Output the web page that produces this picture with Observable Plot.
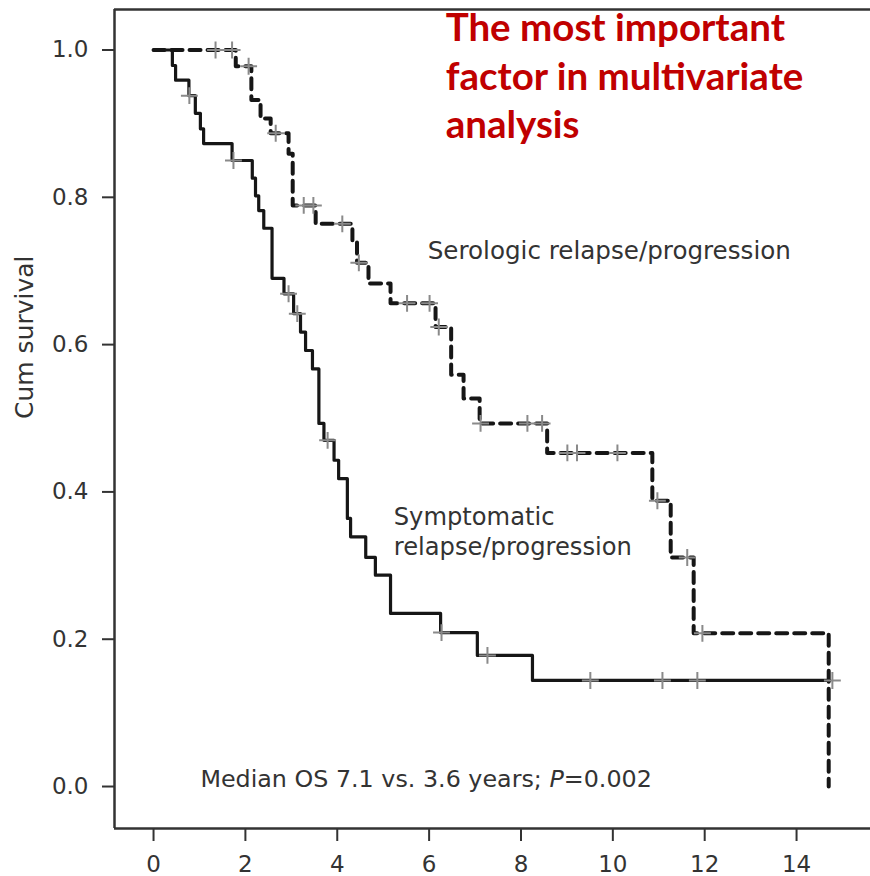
<!DOCTYPE html>
<html>
<head>
<meta charset="utf-8">
<script src="https://cdn.jsdelivr.net/npm/d3@7"></script>
<script src="https://cdn.jsdelivr.net/npm/@observablehq/plot@0.6"></script>
<style>
  html, body { margin: 0; padding: 0; background: #fff; overflow: hidden; }
</style>
</head>
<body>
<div id="chart"></div>
<script>
// Kaplan–Meier overall survival (years) by type of relapse/progression.

// Symptomatic relapse/progression: event times and survival after each event
const symptomaticTimes = [0, 0.41, 0.48, 0.77, 0.91, 1.02, 1.09, 1.71, 2.15, 2.22, 2.29, 2.40, 2.58, 2.84,
  3.05, 3.20, 3.31, 3.46, 3.60, 3.71, 3.93, 4.03, 4.22, 4.29, 4.62, 4.83, 5.16, 6.25, 7.05, 8.25];
const symptomaticSurvival = [1.0, 0.979, 0.959, 0.938, 0.914, 0.893, 0.873, 0.850, 0.826, 0.802, 0.782, 0.758, 0.690, 0.669,
  0.642, 0.617, 0.592, 0.567, 0.493, 0.470, 0.443, 0.418, 0.364, 0.339, 0.311, 0.287, 0.235, 0.209, 0.178, 0.144];
const symptomaticLastFollowUp = 14.72;
const symptomaticCensored = [0.78, 1.74, 2.94, 3.13, 3.79, 6.27, 7.27, 9.51, 11.08, 11.84, 14.78];

// Serologic relapse/progression
const serologicTimes = [0, 1.79, 2.13, 2.33, 2.55, 2.94, 3.03, 3.53, 4.33, 4.43, 4.68, 5.16, 6.14, 6.48,
  6.75, 7.10, 8.57, 10.86, 11.26, 11.76, 14.70];
const serologicSurvival = [1.0, 0.978, 0.932, 0.907, 0.887, 0.859, 0.789, 0.764, 0.739, 0.711, 0.683, 0.656, 0.624, 0.559,
  0.527, 0.493, 0.453, 0.388, 0.311, 0.208, 0.0];
const serologicCensored = [1.35, 1.71, 2.07, 2.66, 3.27, 3.48, 4.11, 4.47, 5.52, 6.01, 6.21, 7.12, 8.14, 8.46,
  9.01, 9.22, 10.10, 10.97, 11.62, 11.95];

const xTicks = [0, 2, 4, 6, 8, 10, 12, 14];
const yTicks = [0, 0.2, 0.4, 0.6, 0.8, 1.0];

const yLabel = "Cum survival";
const serologicLabel = "Serologic relapse/progression";
const symptomaticLabel = "Symptomatic\nrelapse/progression";
const medianNote = "Median OS 7.1 vs. 3.6 years; P=0.002";
const headline = "The most important\nfactor in multivariate\nanalysis";

// survival value of a step function at time t
function survivalAt(times, surv, t) {
  let s = surv[0];
  for (let i = 0; i < times.length; i++) if (times[i] <= t) s = surv[i];
  return s;
}

const symptomaticLine = symptomaticTimes.map((t, i) => ({t, s: symptomaticSurvival[i]}));
symptomaticLine.push({t: symptomaticLastFollowUp, s: symptomaticSurvival[symptomaticSurvival.length - 1]});
const serologicLine = serologicTimes.map((t, i) => ({t, s: serologicSurvival[i]}));

const censorMarks = [
  ...symptomaticCensored.map(t => ({t, s: survivalAt(symptomaticTimes, symptomaticSurvival, t)})),
  ...serologicCensored.map(t => ({t, s: survivalAt(serologicTimes, serologicSurvival, t)}))
];

const xDomain = [-0.85, 15.61];
const yDomain = [-0.057, 1.055];
const ink = "#333";

const chart = Plot.plot({
  width: 870,
  height: 876,
  marginLeft: 114,
  marginRight: 0,
  marginTop: 9,
  marginBottom: 48,
  x: {domain: xDomain},
  y: {domain: yDomain},
  style: {fontFamily: "'DejaVu Sans', sans-serif", fontSize: "23px", color: ink, background: "#fff"},
  marks: [
    Plot.ruleX([xDomain[0]], {stroke: ink, strokeWidth: 2.5}),
    Plot.ruleY(yDomain, {stroke: ink, strokeWidth: 2.5}),
    Plot.axisX({ticks: xTicks, tickSize: 13, tickPadding: 14, label: null, stroke: ink, fill: ink, strokeWidth: 2}),
    Plot.axisY({ticks: yTicks, tickFormat: d3.format(".1f"), tickSize: 12, tickPadding: 14, label: null, stroke: ink, fill: ink, strokeWidth: 2}),
    Plot.text([yLabel], {text: d => d, frameAnchor: "left", rotate: -90, dx: -90, fontSize: 25, fill: ink}),
    Plot.line(symptomaticLine, {x: "t", y: "s", curve: "step-after", stroke: "#161616", strokeWidth: 3.2}),
    Plot.line(serologicLine, {x: "t", y: "s", curve: "step-after", stroke: "#161616", strokeWidth: 4, strokeDasharray: "11,7"}),
    Plot.dot(censorMarks, {x: "t", y: "s", symbol: "plus", r: 5.5, stroke: "#8a8a8a", strokeWidth: 2}),
    Plot.text([serologicLabel], {text: d => d, x: 5.97, y: 0.727, textAnchor: "start", fontSize: 24.6, fill: ink}),
    Plot.text([symptomaticLabel], {text: d => d, x: 5.23, y: 0.384, textAnchor: "start", lineAnchor: "top", lineHeight: 1.25, fontSize: 24.2, fill: ink}),
    Plot.text([medianNote], {text: d => d, x: 1.02, y: 0.0217, textAnchor: "start", lineAnchor: "top", fontSize: 23.8, fill: ink}),
    Plot.text([headline], {text: d => d, x: 6.36, y: 1.058, textAnchor: "start", lineAnchor: "top", lineHeight: 1.25, fontSize: 38.5, fontWeight: "bold", fontFamily: "Lato, sans-serif", fill: "#c00000"})
  ]
});

// italic P in the statistics note
d3.select(chart).selectAll("text").each(function () {
  if (this.textContent === medianNote) {
    const el = d3.select(this);
    el.text(null);
    el.append("tspan").text("Median OS 7.1 vs. 3.6 years; ");
    el.append("tspan").attr("font-style", "italic").text("P");
    el.append("tspan").text("=0.002");
  }
});

document.getElementById("chart").appendChild(chart);
</script>
</body>
</html>
